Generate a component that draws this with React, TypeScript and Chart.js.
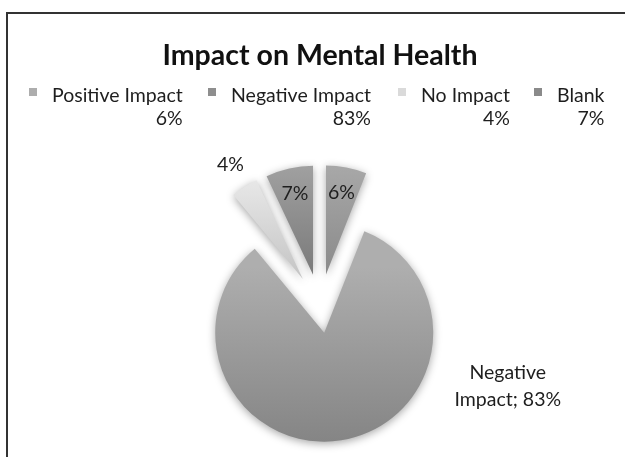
import React, { useEffect, useRef } from "react";
import { Chart, registerables } from "chart.js";

Chart.register(...registerables);

// ---- data ----
const TITLE = "Impact on Mental Health";
const categories = ["Positive Impact", "Negative Impact", "No Impact", "Blank"];
const percentages = [6, 83, 4, 7];

// ---- style ----
const FONT = "Lato, 'Open Sans', sans-serif";
const TEXT = "#1e1e1e";
const topColors = ["#a8a8a8", "#aeaeae", "#ebebeb", "#a0a0a0"];
const bottomColors = ["#8a8a8a", "#858585", "#c4c4c4", "#7a7a7a"];
const legendColors = ["#adadad", "#8e8e8e", "#dadada", "#8a8a8a"];
const explode = [32, 27, 32, 32];
const RADIUS = 109;
const legendX = [29, 208, 398, 534];

const pctText = (v: number) => `${v}%`;

const explodePlugin = {
  id: "explodeSlices",
  beforeDatasetDraw(chart: any, args: any) {
    const ctx = chart.ctx as CanvasRenderingContext2D;
    const meta = args.meta;
    ctx.save();
    ctx.shadowColor = "rgba(0,0,0,0.35)";
    ctx.shadowBlur = 8;
    ctx.shadowOffsetY = 2;
    meta.data.forEach((el: any, i: number) => {
      const mid = (el.startAngle + el.endAngle) / 2;
      ctx.save();
      ctx.translate(Math.cos(mid) * explode[i], Math.sin(mid) * explode[i]);
      el.draw(ctx);
      ctx.restore();
    });
    ctx.restore();
    return false;
  },
};

const labelPlugin = {
  id: "sliceLabels",
  afterDatasetsDraw(chart: any) {
    const ctx = chart.ctx as CanvasRenderingContext2D;
    const meta = chart.getDatasetMeta(0);
    ctx.save();
    ctx.fillStyle = TEXT;
    ctx.font = `19.5px ${FONT}`;
    ctx.textAlign = "center";
    ctx.textBaseline = "middle";
    meta.data.forEach((el: any, i: number) => {
      const mid = (el.startAngle + el.endAngle) / 2;
      const dx = Math.cos(mid);
      const dy = Math.sin(mid);
      const v = percentages[i];
      if (i === 1) {
        const ang = (23 * Math.PI) / 180;
        const x = el.x + Math.cos(ang) * 204;
        const y = el.y + Math.sin(ang) * 204;
        const words = categories[i].split(" ");
        const lines = [words[0], words.slice(1).join(" ") + "; " + pctText(v)];
        ctx.fillText(lines[0], x, y - 13);
        ctx.fillText(lines[1], x, y + 14);
      } else if (i === 2) {
        const d = explode[i] + el.outerRadius + 26;
        ctx.fillText(pctText(v), el.x + dx * d, el.y + dy * d);
      } else {
        const d = explode[i] + el.outerRadius * 0.76;
        ctx.fillText(pctText(v), el.x + dx * d, el.y + dy * d);
      }
    });
    ctx.restore();
  },
  afterDraw(chart: any) {
    const ctx = chart.ctx as CanvasRenderingContext2D;
    ctx.save();
    // frame
    ctx.strokeStyle = "#333";
    ctx.lineWidth = 2;
    ctx.beginPath();
    ctx.moveTo(7, 457);
    ctx.lineTo(7, 13);
    ctx.lineTo(625, 13);
    ctx.stroke();
    // title
    ctx.fillStyle = "#111";
    ctx.font = `bold 28.5px ${FONT}`;
    ctx.textAlign = "center";
    ctx.textBaseline = "middle";
    ctx.fillText(TITLE, 320, 56);
    // legend
    ctx.font = `19.5px ${FONT}`;
    categories.forEach((c, i) => {
      const x0 = legendX[i];
      ctx.fillStyle = legendColors[i];
      ctx.fillRect(x0, 88, 8, 8);
      ctx.fillStyle = TEXT;
      ctx.textAlign = "left";
      const tx = x0 + 23;
      ctx.fillText(c, tx, 96);
      const w = ctx.measureText(c).width;
      ctx.textAlign = "right";
      ctx.fillText(pctText(percentages[i]), tx + w, 119);
    });
    ctx.restore();
  },
};

export default function App() {
  const ref = useRef<HTMLCanvasElement | null>(null);
  useEffect(() => {
    if (!ref.current) return;
    const chart = new Chart(ref.current, {
      type: "pie",
      data: {
        labels: categories,
        datasets: [
          {
            data: percentages,
            radius: RADIUS,
            borderWidth: 0,
            backgroundColor: (context: any) => {
              const i = context.dataIndex;
              const chart = context.chart;
              const area = chart.chartArea;
              if (!area) return topColors[i];
              const cy = (area.top + area.bottom) / 2;
              const y0 = i === 1 ? cy - RADIUS * 0.6 : cy - RADIUS;
              const y1 = i === 1 ? cy + RADIUS : cy;
              const g = chart.ctx.createLinearGradient(0, y0, 0, y1);
              g.addColorStop(0, topColors[i]);
              g.addColorStop(1, bottomColors[i]);
              return g;
            },
          } as any,
        ],
      },
      options: {
        responsive: false,
        animation: false,
        events: [],
        layout: { padding: { left: 210, right: 195, top: 196, bottom: 41 } },
        plugins: {
          legend: { display: false },
          title: { display: false },
          tooltip: { enabled: false },
        },
      },
      plugins: [explodePlugin, labelPlugin],
    });
    return () => chart.destroy();
  }, []);
  return (
    <div style={{ position: "fixed", left: 0, top: 0, width: 625, height: 457, background: "#fff" }}>
      <canvas ref={ref} width={625} height={457} />
    </div>
  );
}
